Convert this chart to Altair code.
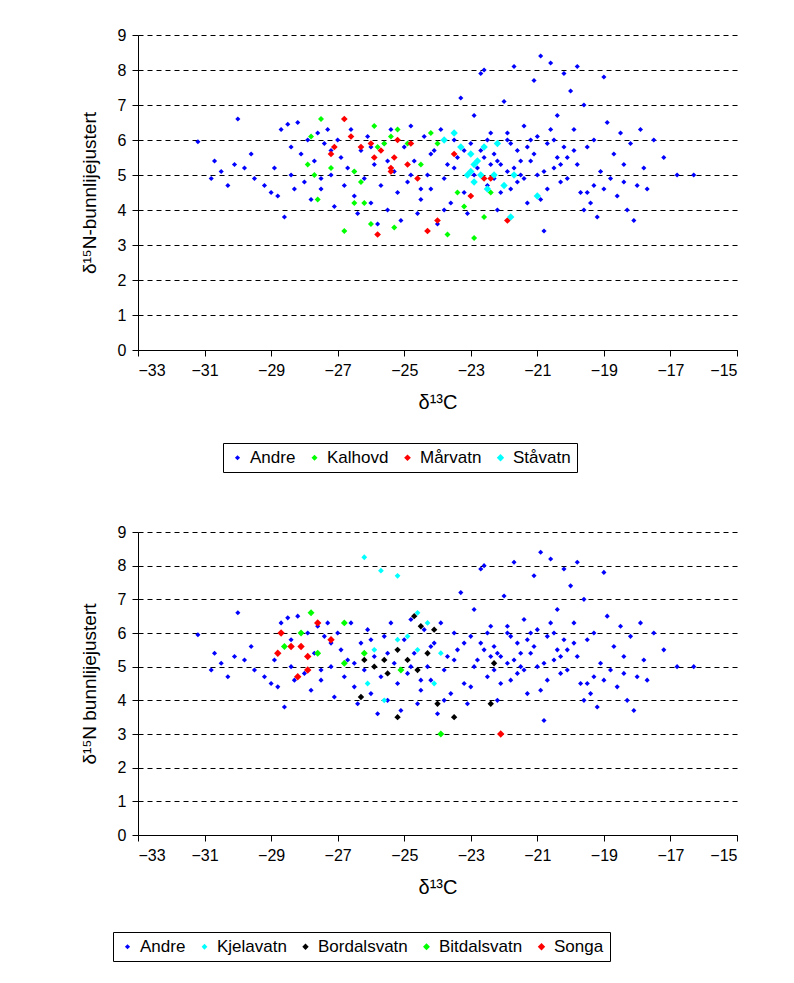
import altair as alt
import pandas as pd

# "Andre" (shared in both panels)
andre_x = [-31.2,-30.8,-30.7,-30.5,-30.3,-30.1,-30,-29.6,-29.5,-29.2,-29,-28.9,-28.8,-28.7,-28.6,-28.5,-28.4,-28.3,-28.2,-28.1,-28,-27.9,-27.8,-27.7,-27.6,-27.5,-27.4,-27.3,-27.2,-27.1,-27,-26.9,-26.8,-26.7,-26.6,-26.5,-26.4,-26.3,-26.2,-26.1,-26,-25.9,-25.8,-25.7,-25.6,-25.5,-25.4,-25.3,-25.2,-25.1,-25,-24.9,-24.8,-24.7,-24.6,-24.5,-24.4,-24.3,-24.2,-24.1,-24,-23.9,-23.8,-23.7,-23.6,-23.5,-23.4,-23.3,-23.2,-23.1,-23,-22.9,-22.8,-22.7,-22.6,-22.5,-22.4,-22.3,-22.2,-22.1,-22,-21.9,-21.8,-21.7,-21.6,-21.5,-21.4,-21.3,-21.2,-21.1,-21,-20.9,-20.8,-20.7,-20.6,-20.5,-20.4,-20.3,-20.2,-20.1,-20,-19.9,-19.8,-19.7,-19.6,-19.5,-19.4,-19.3,-19.2,-19.1,-19,-18.9,-18.8,-18.7,-18.6,-18.5,-18.4,-18.3,-18.2,-18.1,-18,-17.9,-17.8,-17.7,-17.5,-17.2,-16.8,-16.3,
           -22.9,-22.6,-22.3,-21.9,-21.6,-21.3,-21,-20.7,-20.4,-20.1,-19.8,-19.5,-21.2,-20.6,-21.8,-22.5,-23.5,-24.2,-24.8,-25.5,-26.5,-27.2,-28.4,-29.8,-19,-18.4,-20.2,-21.5,-22.1,-23,-23.8,-20.9,-19.6,
           -22.7,-22.2,-21.7,-21.1,-20.8,-20.3,-19.9,-19.3,-21.4,-22.4,-20.5,-21.9,-23.2,-24.5,-26.0,-27.5]
andre_y = [5.95,4.9,5.4,5.1,4.7,5.3,6.6,5.6,4.9,4.7,4.5,5.2,4.4,6.3,3.8,6.45,5.0,4.6,6.5,5.6,4.8,6.0,4.3,5.4,6.2,4.6,5.9,6.3,5.0,4.1,6.0,5.5,4.7,5.2,6.3,4.4,3.9,5.7,4.9,6.1,4.2,5.3,3.6,4.7,5.9,4.0,6.3,5.1,4.5,3.7,5.8,4.8,6.4,5.4,3.9,4.3,6.1,5.0,4.6,5.7,3.6,6.3,4.9,5.3,4.2,6.0,5.5,7.2,4.5,3.9,5.9,6.7,5.2,7.9,8.0,4.7,6.2,5.6,4.0,5.3,7.1,6.0,4.6,8.1,5.7,5.0,6.4,4.2,5.4,7.7,6.1,8.4,3.4,5.9,8.2,5.2,6.7,4.8,7.9,5.5,7.4,6.3,8.1,4.5,7.0,5.8,4.2,6.0,3.8,5.1,7.8,6.5,4.9,5.6,4.4,6.2,5.3,4.0,5.9,3.7,4.7,6.3,5.2,4.6,6.0,5.5,5.0,5.0,
           5.0,5.5,4.9,5.1,4.8,5.8,5.0,4.6,5.5,4.9,5.3,4.5,6.0,6.3,5.9,6.0,5.2,5.6,5.0,5.4,5.1,5.7,5.8,5.2,4.6,4.8,5.8,5.4,4.5,4.4,4.0,4.3,4.0,
           5.7,5.4,5.2,5.6,5.1,5.3,5.7,4.7,4.9,5.3,6.0,6.2,5.7,4.6,5.8,4.9]

kalhovd_x = [-27.8,-27.5,-27.9,-27.7,-27.6,-26.3,-26.5,-26.8,-26.2,-26,-25.9,-25.8,-25.6,-25.4,-25.2,-25.3,-24.9,-24.5,-24.2,-24.0,-23.7,-23.4,-23.2,-22.9,-22.6,-22.4,-27.2,-26.5]
kalhovd_y = [6.1,6.6,5.3,5.0,4.3,4.8,4.2,3.4,4.2,3.6,6.4,5.8,5.9,6.1,6.3,3.5,5.9,5.3,6.2,5.9,3.3,4.5,4.1,3.2,3.8,4.5,5.2,5.1]
marvatn_x = [-27.1,-26.8,-26.6,-27.2,-26.3,-25.9,-25.8,-25.7,-25.4,-25.4,-25.3,-25.2,-24.8,-24.9,-24.6,-24.3,-24.0,-23.5,-23.0,-22.6,-22.4,-21.9,-26.0]
marvatn_y = [5.8,6.6,6.1,5.6,5.8,5.5,3.3,5.7,5.2,5.1,5.5,6.0,5.9,5.3,4.9,3.4,3.7,5.6,4.4,4.9,4.9,3.7,5.9]
stavatn_x = [-23.8,-23.5,-23.0,-23.0,-23.1,-22.9,-22.8,-22.7,-22.6,-22.5,-22.3,-22.2,-22.0,-21.8,-21.7,-21.0,-23.3,-22.9]
stavatn_y = [6.0,6.2,5.1,5.6,5.0,4.8,5.4,5.0,5.8,4.6,5.0,5.9,4.7,3.8,5.0,4.4,5.8,5.3]

kjelavatn_x = [-26.2,-25.7,-25.2,-24.6,-24.3,-24.9,-25.2,-24.6,-24.1,-25.6,-26.1,-23.9,-25.9]
kjelavatn_y = [8.25,7.85,7.7,6.6,6.3,5.9,5.8,5.5,4.5,4.0,4.5,5.4,5.5]
bordal_x = [-26.2,-26.3,-25.9,-25.6,-25.5,-25.2,-25.2,-24.9,-24.7,-24.5,-24.3,-24.1,-24,-23.5,-22.4,-22.3,-24.6]
bordal_y = [5.2,4.1,5.0,5.2,4.8,5.5,3.5,5.2,6.5,6.2,5.4,6.1,3.9,3.5,3.9,5.1,4.9]
bitdal_x = [-27.8,-28.1,-27.6,-26.8,-26.8,-26.2,-25.1,-23.9,-28.6]
bitdal_y = [6.6,6.0,5.4,6.3,5.1,5.4,4.9,3.0,5.6]
songa_x = [-28.7,-28.8,-28.4,-28.1,-27.9,-28.2,-27.6,-27.2,-22.1,-27.9]
songa_y = [6.0,5.4,5.6,5.6,5.3,4.7,6.3,5.8,3.0,4.9]


def frame(groups):
    rows = []
    for name, xs, ys in groups:
        rows += [{"x": a, "y": b, "serie": name} for a, b in zip(xs, ys)]
    return pd.DataFrame(rows)


def panel(groups, colors, ytitle, h, lx, ly):
    df = frame(groups)
    names = [g[0] for g in groups]
    return alt.Chart(df).mark_point(shape="diamond", filled=True, opacity=1).encode(
        x=alt.X("x:Q", scale=alt.Scale(domain=[-33, -15]),
                axis=alt.Axis(values=list(range(-33, -14, 2)), grid=False, titlePadding=14,
                              title="δ¹³C", titleFontSize=20, titleFontWeight="normal")),
        y=alt.Y("y:Q", scale=alt.Scale(domain=[0, 9]),
                axis=alt.Axis(values=list(range(0, 10)), gridDash=[5, 4], gridColor="black",
                              titlePadding=18,
                              title=ytitle, titleFontSize=19, titleFontWeight="normal")),
        color=alt.Color("serie:N", scale=alt.Scale(domain=names, range=colors),
                        legend=alt.Legend(title=None, orient="none", legendX=lx, legendY=ly,
                                          direction="horizontal",
                                          strokeColor="black", padding=6, labelFontSize=17,
                                          symbolType="diamond", symbolSize=50, columns=len(names))),
        size=alt.Size("serie:N", scale=alt.Scale(domain=names, range=[26] + [55] * (len(names) - 1)),
                      legend=None),
        order=alt.Order("o:Q"),
    ).transform_calculate(o="datum.serie == 'Andre' ? 0 : 1").properties(width=599, height=h)


top = panel([("Andre", andre_x, andre_y), ("Kalhovd", kalhovd_x, kalhovd_y),
             ("Mårvatn", marvatn_x, marvatn_y), ("Ståvatn", stavatn_x, stavatn_y)],
            ["#0000FF", "#00FF00", "#FF0000", "#00FFFF"], "δ¹⁵N-bunnlijejustert", 315, 85, 408)
bottom = panel([("Andre", andre_x, andre_y), ("Kjelavatn", kjelavatn_x, kjelavatn_y),
                ("Bordalsvatn", bordal_x, bordal_y), ("Bitdalsvatn", bitdal_x, bitdal_y),
                ("Songa", songa_x, songa_y)],
               ["#0000FF", "#00FFFF", "#000000", "#00FF00", "#FF0000"], "δ¹⁵N bunnlijejustert", 303, -25, 400)

chart = alt.vconcat(top, bottom, spacing=51).resolve_scale(color="independent", size="independent").properties(
    padding={"left": 72, "top": 19, "right": 5, "bottom": 5}).configure(
    font="Liberation Sans").configure_view(stroke=None).configure_axis(
    domainColor="black", tickColor="black", labelColor="black", titleColor="black",
    labelFontSize=16, tickSize=6, labelPadding=6)

chart.save("out.html", embed_options={"renderer": "svg", "actions": False})
